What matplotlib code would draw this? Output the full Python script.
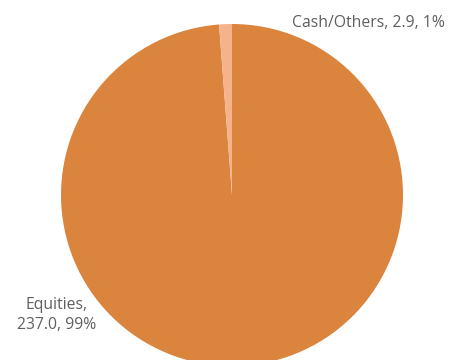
import matplotlib.pyplot as plt

# data
categories = ["Equities", "Cash/Others"]
values = [237.0, 2.9]
colors = ["#DA843E", "#F6B28A"]

total = sum(values)
pcts = [v / total * 100 for v in values]

fig = plt.figure(figsize=(4.6, 3.6), dpi=100)
ax = fig.add_axes([0, 0, 1, 1])

ax.pie(values, colors=colors, startangle=90, counterclock=False,
       center=(232, 165), radius=171,
       wedgeprops=dict(linewidth=0))

# pie resets the limits, so set them afterwards
ax.set_xlim(0, 460)
ax.set_ylim(0, 360)
ax.set_aspect("equal")
ax.axis("off")

label_color = "#5f5f5f"
ax.text(445, 337, f"{categories[1]}, {values[1]:.1f}, {pcts[1]:.0f}%",
        ha="right", va="center", fontsize=11.3, color=label_color,
        family="Open Sans")
ax.text(57, 45, f"{categories[0]},\n{values[0]:.1f}, {pcts[0]:.0f}%",
        ha="center", va="center", fontsize=11.3, color=label_color,
        family="Open Sans", linespacing=1.3)

fig.savefig("out.png", dpi=100)
